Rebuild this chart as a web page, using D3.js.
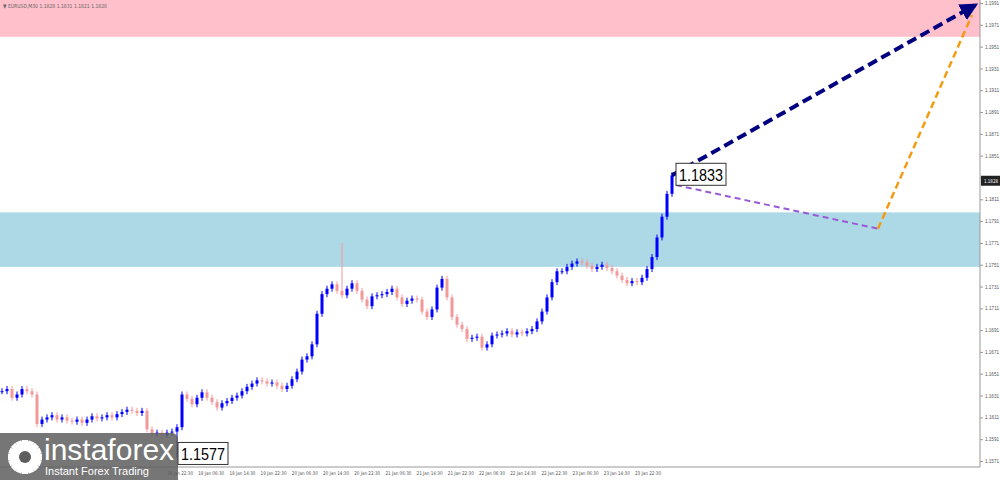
<!DOCTYPE html>
<html><head><meta charset="utf-8">
<script src="https://cdn.jsdelivr.net/npm/d3@7/dist/d3.min.js"></script>
<style>body{margin:0;background:#fff}svg{display:block;font-family:Tahoma,"DejaVu Sans",sans-serif}</style>
</head><body><svg id="c" width="1000" height="480"></svg>
<script>
const closes = [1.1635,1.1637,1.1629,1.1632,1.1637,1.1635,1.1632,1.1605,1.1609,1.1611,
1.1613,1.1609,1.1611,1.1608,1.1607,1.1609,1.1606,1.1609,1.1612,1.1610,
1.1611,1.1613,1.1611,1.1614,1.1616,1.1618,1.1617,1.1615,1.1617,1.1600,
1.1596,1.1597,1.1595,1.1597,1.1598,1.1602,1.1632,1.1628,1.1623,1.1629,
1.1634,1.1629,1.1625,1.1620,1.1624,1.1626,1.1629,1.1631,1.1635,1.1639,
1.1642,1.1645,1.1644,1.1642,1.1643,1.1640,1.1637,1.1640,1.1646,1.1653,
1.1664,1.1667,1.1678,1.1706,1.1724,1.1729,1.1733,1.1727,1.1723,1.1729,
1.1734,1.1727,1.1719,1.1713,1.1722,1.1723,1.1724,1.1726,1.1729,1.1721,
1.1715,1.1718,1.1720,1.1719,1.1708,1.1703,1.1710,1.1730,1.1738,1.1721,
1.1703,1.1696,1.1692,1.1683,1.1684,1.1685,1.1675,1.1678,1.1686,1.1687,
1.1688,1.1690,1.1687,1.1689,1.1688,1.1690,1.1692,1.1699,1.1708,1.1721,
1.1735,1.1745,1.1745,1.1749,1.1752,1.1754,1.1753,1.1750,1.1747,1.1749,
1.1751,1.1748,1.1745,1.1741,1.1737,1.1734,1.1736,1.1735,1.1739,1.1747,
1.1758,1.1776,1.1795,1.1816,1.1833];
const extremes = [{i:68, high:1.1768},{i:35, low:1.1577}];
const priceTicks = d3.range(0,22).map(k=>+(1.1571+k*0.002).toFixed(4));
const timeLabels = ["18 Jan 22:30","19 Jan 06:30","19 Jan 14:30","19 Jan 22:30","20 Jan 06:30","20 Jan 14:30","20 Jan 22:30","21 Jan 06:30","21 Jan 14:30","21 Jan 22:30","22 Jan 06:30","22 Jan 14:30","22 Jan 22:30","23 Jan 06:30","23 Jan 14:30","23 Jan 22:30"];
const zones = [{top:1.2030,bottom:1.1960,color:"#ffc0cb"},{top:1.1799,bottom:1.1749,color:"#add8e6"}];
const purplePath = [{i:134.8,p:1.1824},{i:175.2,p:1.1784}];
const orangePath = [{i:175.2,p:1.1784},{i:194.0,p:1.1980}];
const navyPath = [{i:134,p:1.1833},{i:194.6,p:1.1989}];
const header = "EURUSD,M30  1.1828 1.1831 1.1821 1.1828";
const lastPrice = 1.1828;

const svg = d3.select("#c");
const x = d3.scaleLinear().domain([0,134]).range([2,672]);
const y = d3.scaleLinear().domain([1.1571,1.1991]).range([461,3]);
const tx = d3.scaleLinear().domain([0,timeLabels.length-1]).range([167,635]);

svg.append("defs").html(`<clipPath id="pc"><rect x="0" y="0" width="980" height="467"/></clipPath>
<marker id="ah" viewBox="0 0 10 10" refX="8" refY="5" markerWidth="4.5" markerHeight="4.5" orient="auto"><path d="M0,0L10,5L0,10z" fill="#000080"/></marker>`);
const g = svg.append("g").attr("clip-path","url(#pc)");
g.selectAll("rect.z").data(zones).join("rect").attr("x",0).attr("width",980)
 .attr("y",d=>y(d.top)).attr("height",d=>y(d.bottom)-y(d.top)).attr("fill",d=>d.color);

const bars = closes.map((c,i)=>{const o=i?closes[i-1]:c;const e=extremes.find(q=>q.i===i)||{};
 return {i,o,c,hi:e.high??Math.max(o,c),lo:e.low??Math.min(o,c)};});
const col = d=>d.c>=d.o?"#0000ff":"#f29a9a";
g.selectAll("line.w").data(bars).join("line").attr("x1",d=>x(d.i)).attr("x2",d=>x(d.i))
 .attr("y1",d=>y(d.hi)-3).attr("y2",d=>y(d.lo)+3).attr("stroke",col).attr("stroke-width",1);
g.selectAll("rect.b").data(bars).join("rect").attr("x",d=>x(d.i)-1.5).attr("width",3)
 .attr("y",d=>y(Math.max(d.o,d.c))).attr("height",d=>Math.max(1,Math.abs(y(d.o)-y(d.c)))).attr("fill",col);

const ln = d3.line().x(d=>x(d.i)).y(d=>y(d.p));
g.append("path").attr("d",ln(purplePath)).attr("stroke","#9a5ad6").attr("stroke-width",2).attr("stroke-dasharray","6,4").attr("fill","none");
g.append("path").attr("d",ln(orangePath)).attr("stroke","#f39c12").attr("stroke-width",2.5).attr("stroke-dasharray","7,4").attr("fill","none");
g.append("path").attr("d",ln(navyPath)).attr("stroke","#000080").attr("stroke-width",4).attr("stroke-dasharray","10,5").attr("fill","none").attr("marker-end","url(#ah)");

function box(xx,yy,t){const gg=svg.append("g");
 gg.append("rect").attr("x",xx).attr("y",yy).attr("width",50).attr("height",22).attr("fill","#fff").attr("stroke","#333");
 gg.append("text").attr("x",xx+3).attr("y",yy+18).attr("font-size",17).attr("textLength",44).attr("lengthAdjust","spacingAndGlyphs").attr("font-family","Arial,Liberation Sans").text(t);}
box(x(134)+4,y(1.1833)-12,"1.1833");

// axes
svg.append("line").attr("x1",980).attr("x2",980).attr("y1",0).attr("y2",467).attr("stroke","#999");
svg.append("line").attr("x1",0).attr("x2",980).attr("y1",467).attr("y2",467).attr("stroke","#999");
const ya = svg.append("g").attr("transform","translate(980,0)").call(d3.axisRight(y).tickValues(priceTicks).tickSize(3).tickFormat(d3.format(".4f")));
ya.select(".domain").remove();
ya.selectAll("text").attr("x",5).attr("font-size",5).attr("textLength",14).attr("lengthAdjust","spacingAndGlyphs").attr("fill","#555");
ya.selectAll(".tick").filter(d=>Math.abs(d-lastPrice)<0.0005).select("text").remove();
ya.selectAll("line").attr("stroke","#999");
svg.append("rect").attr("x",981).attr("y",y(lastPrice)-5).attr("width",19).attr("height",10).attr("fill","#222");
svg.append("text").attr("x",984).attr("y",y(lastPrice)+2.5).attr("font-size",5).attr("textLength",14).attr("lengthAdjust","spacingAndGlyphs").attr("fill","#fff").text(lastPrice.toFixed(4));
svg.selectAll("text.t").data(timeLabels).join("text").attr("x",(d,i)=>tx(i)).attr("y",475).attr("font-size",5).attr("textLength",26).attr("lengthAdjust","spacingAndGlyphs").attr("fill","#555").text(d=>d);
svg.append("text").attr("x",3).attr("y",8).attr("font-size",5.5).attr("textLength",104).attr("lengthAdjust","spacingAndGlyphs").attr("fill","#666").text("▼ "+header);

// logo
const lg = svg.append("g");
lg.append("rect").attr("x",-6).attr("y",433).attr("width",184).attr("height",52).attr("rx",6).attr("fill","#5e5e5e").attr("opacity",0.85);
const gear = lg.append("g").attr("transform","translate(25,457)");
gear.selectAll("rect").data(d3.range(8)).join("rect").attr("x",-3).attr("y",-17).attr("width",6).attr("height",34).attr("fill","#fff").attr("transform",d=>`rotate(${d*22.5})`);
gear.append("circle").attr("r",13).attr("fill","#fff");
gear.append("circle").attr("r",6).attr("fill","#5e5e5e");
lg.append("text").attr("x",44).attr("y",460).attr("font-size",30).attr("fill","#fff").attr("font-family","Arial,Liberation Sans").text("instaforex");
lg.append("text").attr("x",45).attr("y",475).attr("font-size",11).attr("fill","#fff").attr("font-family","Arial,Liberation Sans").text("Instant Forex Trading");
box(x(35)+1,y(1.1577)-12,"1.1577");
</script></body></html>
